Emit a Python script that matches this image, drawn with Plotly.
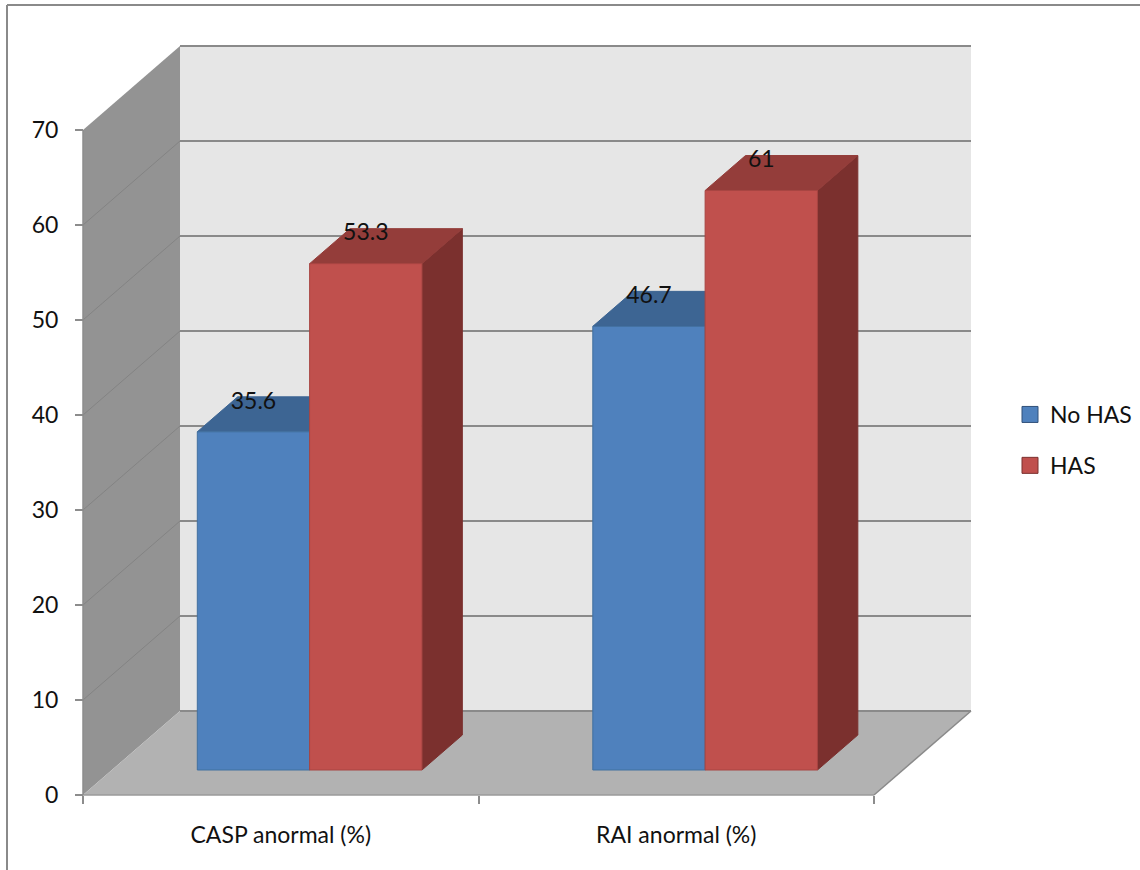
import plotly.graph_objects as go

# ---- data -------------------------------------------------------------
categories = ["CASP anormal (%)", "RAI anormal (%)"]
series_names = ["No HAS", "HAS"]
no_has = [35.6, 46.7]
has = [53.3, 61]
y_ticks = [0, 10, 20, 30, 40, 50, 60, 70]

# ---- styling ----------------------------------------------------------
FONT = "Lato"
face_colors = {
    "No HAS": dict(front="#4f81bd", top="#3d6593", side="#30507a", edge="#41709f"),
    "HAS": dict(front="#c0504d", top="#943d3a", side="#7b302e", edge="#a84542"),
}
BACK_WALL = "#e6e6e6"
SIDE_WALL = "#939393"
FLOOR = "#b2b2b2"
GRID = "#8a8a8a"

# ---- pixel layout of the oblique projection ---------------------------
W, H = 1140, 870
PX_LEFT, PX_RIGHT = 80, 975          # plotting area, horizontal
PY_TOP, PY_BOTTOM = 40, 800          # plotting area, vertical
X0_PX, Y0_PX = 83, 795               # origin of the front plane
PX_PER_X = 395.5                     # pixels per category slot
PX_PER_Y = 9.5                       # pixels per value unit
DEPTH_PX = (97, 84)                  # screen offset of full depth

x_range = [(PX_LEFT - X0_PX) / PX_PER_X, (PX_RIGHT - X0_PX) / PX_PER_X]
y_range = [(Y0_PX - PY_BOTTOM) / PX_PER_Y, (Y0_PX - PY_TOP) / PX_PER_Y]
DX = DEPTH_PX[0] / PX_PER_X
DY = DEPTH_PX[1] / PX_PER_Y

N = len(categories)
Y_MAX = y_ticks[-1]
BAR_W = 0.284                        # width of one bar in category units
Z_FRONT, Z_BACK = 0.2976, 0.714      # depth span occupied by the bars
LABEL_LIFT = 29 / PX_PER_Y


def proj(pts):
    """Project (x, value, depth) points onto the 2-D axes."""
    xs = [x + z * DX for x, _, z in pts]
    ys = [y + z * DY for _, y, z in pts]
    return xs, ys


def face(pts, fill, line_color=None, line_width=0):
    xs, ys = proj(pts + [pts[0]])
    return go.Scatter(
        x=xs, y=ys, mode="lines", fill="toself", fillcolor=fill,
        line=dict(color=line_color or fill, width=line_width),
        hoverinfo="skip", showlegend=False,
    )


def segment(p, q, color, width):
    xs, ys = proj([p, q])
    return go.Scatter(x=xs, y=ys, mode="lines",
                      line=dict(color=color, width=width),
                      hoverinfo="skip", showlegend=False)


fig = go.Figure()

# walls and floor
fig.add_trace(face([(0, 0, 0), (0, Y_MAX, 0), (0, Y_MAX, 1), (0, 0, 1)], SIDE_WALL))
fig.add_trace(face([(0, 0, 1), (N, 0, 1), (N, Y_MAX, 1), (0, Y_MAX, 1)], BACK_WALL))
fig.add_trace(face([(0, 0, 0), (N, 0, 0), (N, 0, 1), (0, 0, 1)], FLOOR))

# gridlines on the back wall and the side wall
for v in y_ticks:
    fig.add_trace(segment((0, v, 1), (N, v, 1), GRID, 2))
    if 0 < v < Y_MAX:
        fig.add_trace(segment((0, v, 0), (0, v, 1), "#838383", 1))

# floor edges and front axis lines
fig.add_trace(segment((N, 0, 0), (N, 0, 1), GRID, 1.5))
fig.add_trace(segment((0, 0, 0), (N, 0, 0), "#9a9a9a", 1.5))
fig.add_trace(segment((0, 0, 0), (0, Y_MAX, 0), "#8c8c8c", 1.5))

# bars: side, top and front faces, left to right
series_values = [no_has, has]
label_x, label_y, label_text = [], [], []
for i in range(N):
    center = i + 0.5
    for s, (name, vals) in enumerate(zip(series_names, series_values)):
        v = vals[i]
        xl = center - BAR_W + s * BAR_W
        xr = xl + BAR_W
        c = face_colors[name]
        fig.add_trace(face([(xr, 0, Z_FRONT), (xr, v, Z_FRONT), (xr, v, Z_BACK), (xr, 0, Z_BACK)],
                           c["side"], c["side"], 1))
        fig.add_trace(face([(xl, v, Z_FRONT), (xr, v, Z_FRONT), (xr, v, Z_BACK), (xl, v, Z_BACK)],
                           c["top"], c["top"], 1))
        fig.add_trace(face([(xl, 0, Z_FRONT), (xr, 0, Z_FRONT), (xr, v, Z_FRONT), (xl, v, Z_FRONT)],
                           c["front"], c["edge"], 1))
        lx, ly = proj([((xl + xr) / 2, v, Z_FRONT)])
        label_x.append(lx[0])
        label_y.append(ly[0] + LABEL_LIFT)
        label_text.append(f"{v:g}")

# value labels
fig.add_trace(go.Scatter(
    x=label_x, y=label_y, text=label_text, mode="text",
    textposition="middle center",
    textfont=dict(family=FONT, size=23, color="#111111"),
    hoverinfo="skip", showlegend=False, cliponaxis=False,
))

# legend entries
for name in series_names:
    c = face_colors[name]
    fig.add_trace(go.Scatter(
        x=[None], y=[None], mode="markers", name=name, legendgroup=name,
        marker=dict(symbol="square", size=16, color=c["front"],
                    line=dict(color=c["side"], width=1)),
    ))

# outer frame
fx = lambda px: (px - PX_LEFT) / (PX_RIGHT - PX_LEFT)
fy = lambda py: (PY_BOTTOM - py) / (PY_BOTTOM - PY_TOP)
fig.add_shape(type="line", xref="paper", yref="paper",
              x0=fx(7), x1=fx(1150), y0=fy(5), y1=fy(5),
              line=dict(color="#8a8a8a", width=2))
fig.add_shape(type="line", xref="paper", yref="paper",
              x0=fx(7), x1=fx(7), y0=fy(5), y1=fy(880),
              line=dict(color="#8a8a8a", width=2))

fig.update_layout(
    width=W, height=H,
    margin=dict(l=PX_LEFT, r=W - PX_RIGHT, t=PY_TOP, b=H - PY_BOTTOM, autoexpand=False),
    paper_bgcolor="white", plot_bgcolor="white",
    font=dict(family=FONT, size=23, color="#111111"),
    showlegend=True,
    legend=dict(
        x=fx(1010), y=fy(440), xanchor="left", yanchor="middle",
        font=dict(family=FONT, size=23, color="#111111"),
        tracegroupgap=18, bgcolor="rgba(0,0,0,0)",
    ),
    xaxis=dict(
        range=x_range, showgrid=False, zeroline=False, showline=False,
        automargin=False, anchor="free", position=fy(Y0_PX),
        tickmode="array", tickvals=[i + 0.5 for i in range(N)], ticktext=categories,
        ticks="", ticklabelstandoff=24,
        minor=dict(tickmode="array", tickvals=list(range(N + 1)), ticks="outside",
                   ticklen=8, tickwidth=1.5, tickcolor="#8c8c8c", showgrid=False),
    ),
    yaxis=dict(
        range=y_range, showgrid=False, zeroline=False, showline=False,
        automargin=False, anchor="free", position=fx(X0_PX),
        tickmode="array", tickvals=y_ticks,
        ticks="outside", ticklen=8, tickwidth=1.5, tickcolor="#8c8c8c",
        ticklabelstandoff=12,
    ),
)

fig.write_html("out.html")
